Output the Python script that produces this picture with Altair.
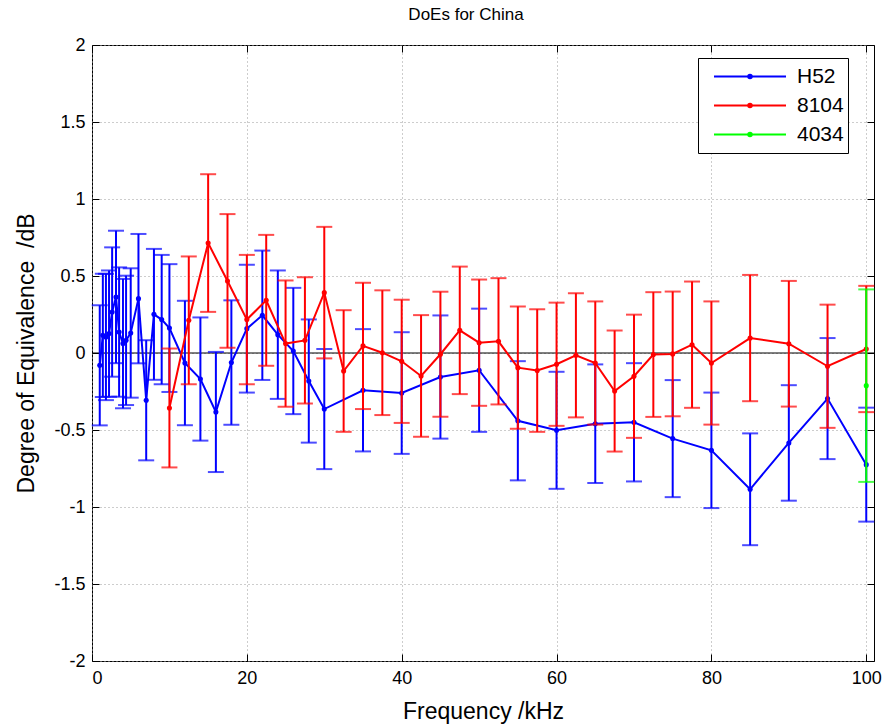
import altair as alt
import pandas as pd

series_names = ["H52", "8104", "4034"]
series_colors = ["#0000FF", "#FF0000", "#00FF00"]

h52_freq = [1, 1.4, 1.8, 2.2, 2.6, 3.1, 3.5, 4, 4.4, 5, 6, 7, 8, 9, 10,
            12, 14, 16, 18, 20, 22, 24, 26, 28, 30,
            35, 40, 45, 50, 55, 60, 65, 70, 75, 80, 85, 90, 95, 100]
h52_doe = [-0.08, 0.115, 0.104, 0.126, 0.266, 0.364, 0.136, 0.061, 0.082, 0.13,
           0.353, -0.307, 0.251, 0.217, 0.162,
           -0.065, -0.169, -0.383, -0.062, 0.158, 0.245, 0.119, 0.013, -0.182, -0.364,
           -0.242, -0.26, -0.156, -0.112, -0.44, -0.502, -0.459, -0.45, -0.556, -0.632,
           -0.885, -0.584, -0.296, -0.725]
h52_unc = [0.39, 0.40, 0.41, 0.41, 0.42, 0.43, 0.42, 0.42, 0.42, 0.42,
           0.42, 0.39, 0.425, 0.42, 0.415,
           0.404, 0.40, 0.39, 0.404, 0.415, 0.42, 0.417, 0.41, 0.40, 0.39,
           0.397, 0.395, 0.40, 0.40, 0.387, 0.38, 0.385, 0.384, 0.38, 0.375,
           0.363, 0.375, 0.393, 0.37]

s8104_freq = [10, 12.5, 15, 17.5, 20, 22.5, 25, 27.5, 30, 32.5, 35, 37.5, 40,
              42.5, 45, 47.5, 50, 52.5, 55, 57.5, 60, 62.5, 65, 67.5, 70, 72.5,
              75, 77.5, 80, 85, 90, 95, 100]
s8104_doe = [-0.357, 0.212, 0.714, 0.468, 0.217, 0.342, 0.061, 0.082, 0.392,
             -0.117, 0.046, 0.002, -0.054, -0.149, -0.008, 0.147, 0.067, 0.076,
             -0.095, -0.114, -0.073, -0.015, -0.065, -0.247, -0.151, -0.01,
             -0.006, 0.054, -0.065, 0.097, 0.06, -0.086, 0.026]
s8104_unc = [0.386, 0.415, 0.447, 0.434, 0.42, 0.425, 0.41, 0.41, 0.427, 0.395,
             0.41, 0.405, 0.40, 0.395, 0.406, 0.414, 0.41, 0.41, 0.397, 0.398,
             0.40, 0.403, 0.40, 0.393, 0.40, 0.405, 0.405, 0.41, 0.40, 0.41,
             0.408, 0.40, 0.41]

s4034_freq = [100]
s4034_doe = [-0.212]
s4034_unc = [0.625]

x_ticks = [0, 20, 40, 60, 80, 100]
y_ticks = [-2, -1.5, -1, -0.5, 0, 0.5, 1, 1.5, 2]

FONT = "Liberation Sans"


def frame(name, freq, doe, unc):
    return pd.DataFrame({
        "series": name,
        "freq": freq,
        "doe": doe,
        "lo": [d - u for d, u in zip(doe, unc)],
        "hi": [d + u for d, u in zip(doe, unc)],
    })


frames = [
    frame("H52", h52_freq, h52_doe, h52_unc),
    frame("8104", s8104_freq, s8104_doe, s8104_unc),
    frame("4034", s4034_freq, s4034_doe, s4034_unc),
]

x_scale = alt.Scale(domain=[0, 101], nice=False, zero=False)
y_scale = alt.Scale(domain=[-2, 2], nice=False)
color_scale = alt.Scale(domain=series_names, range=series_colors)

x_enc = alt.X(
    "freq:Q", scale=x_scale, title="Frequency /kHz",
    axis=alt.Axis(values=x_ticks, labelExpr="'' + datum.value",
                  offset=-7, ticks=True, tickSize=7, tickColor="black",
                  tickWidth=1),
)
y_enc = alt.Y(
    "doe:Q", scale=y_scale, title="Degree of Equivalence\u00a0 /dB",
    axis=alt.Axis(values=y_ticks, labelExpr="'' + datum.value",
                  offset=-7, ticks=True, tickSize=7, tickColor="black",
                  tickWidth=1),
)

legend = alt.Legend(
    title=None,
    orient="none",
    legendX=606,
    legendY=13,
    symbolType="M-1,0H1M0.05,0A0.05,0.05,0,1,1,-0.05,0A0.05,0.05,0,1,1,0.05,0Z",
    symbolSize=5184,
    symbolStrokeWidth=2,
    clipHeight=29,
    rowPadding=0,
    padding=4,
    symbolOffset=11,
    labelOffset=10,
    labelFontSize=21,
    labelFont=FONT,
    labelColor="black",
    strokeColor="black",
    fillColor="white",
    cornerRadius=0,
)

zero_line = alt.Chart(pd.DataFrame({"z": [0]})).mark_rule(
    color="black", strokeWidth=1
).encode(y=alt.datum(0))

layers = [zero_line]
for df, col in zip(frames, series_colors):
    base = alt.Chart(df)
    bars = base.mark_rule(strokeWidth=2, color=col).encode(
        x=alt.X("freq:Q", scale=x_scale),
        y=alt.Y("lo:Q", scale=y_scale),
        y2="hi:Q",
    )
    cap_lo = base.mark_tick(orient="horizontal", size=16, thickness=2, color=col).encode(
        x=alt.X("freq:Q", scale=x_scale),
        y=alt.Y("lo:Q", scale=y_scale),
    )
    cap_hi = base.mark_tick(orient="horizontal", size=16, thickness=2, color=col).encode(
        x=alt.X("freq:Q", scale=x_scale),
        y=alt.Y("hi:Q", scale=y_scale),
    )
    line = base.mark_line(
        strokeWidth=2,
        point=alt.OverlayMarkDef(filled=True, size=26),
    ).encode(
        x=x_enc,
        y=y_enc,
        color=alt.Color("series:N", scale=color_scale, legend=legend),
    )
    layers += [bars, cap_lo, cap_hi, line]

main = alt.layer(*layers)

# opposite-side inward ticks (top and right), as in the original figure
mirror = alt.Chart(frames[0]).mark_point(opacity=0).encode(
    x=alt.X("freq:Q", scale=x_scale, title=None,
            axis=alt.Axis(orient="top", values=x_ticks, labels=False,
                          grid=False, domain=False, offset=-7, ticks=True,
                          tickSize=7, tickColor="black", tickWidth=1)),
    y=alt.Y("doe:Q", scale=y_scale, title=None,
            axis=alt.Axis(orient="right", values=y_ticks, labels=False,
                          grid=False, domain=False, offset=-7, ticks=True,
                          tickSize=7, tickColor="black", tickWidth=1)),
)

chart = alt.layer(main, mirror).resolve_axis(
    x="independent", y="independent"
).properties(
    width=782,
    height=616,
    padding={"left": 92, "top": 45, "right": 16, "bottom": 67},
    autosize=alt.AutoSizeParams(type="none"),
    background="white",
    title=alt.TitleParams(
        "DoEs for China", font=FONT, fontSize=17, fontWeight="normal",
        color="black", offset=12, dx=-17,
    ),
).configure_view(
    stroke="black", strokeWidth=1,
).configure_axis(
    grid=True,
    gridColor="#9a9a9a",
    gridDash=[1, 3],
    gridWidth=1,
    domain=False,
    labelFont=FONT,
    labelFontSize=18,
    labelColor="black",
    titleFont=FONT,
    titleFontSize=23,
    titleFontWeight="normal",
    titleColor="black",
).configure_axisX(
    labelPadding=8, titlePadding=13,
).configure_axisY(
    labelPadding=7, titlePadding=15,
)

chart.save("out.html", embed_options={"renderer": "svg", "actions": False})
